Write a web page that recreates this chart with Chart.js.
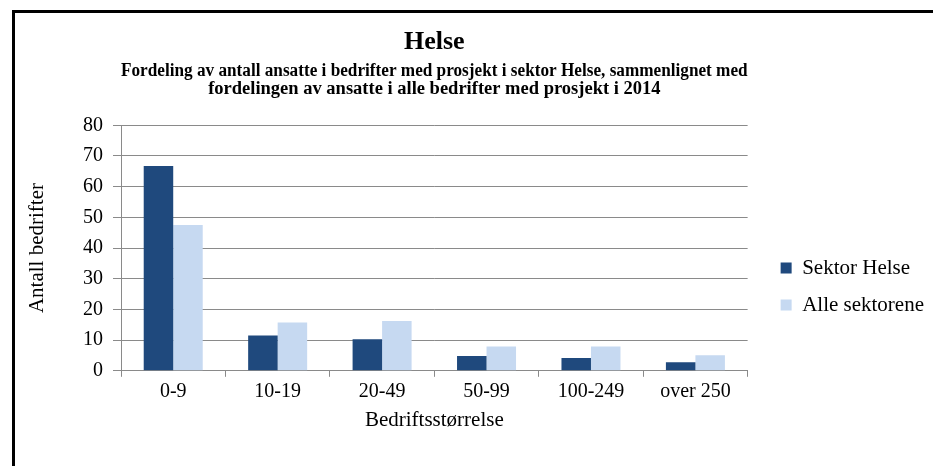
<!DOCTYPE html>
<html>
<head>
<meta charset="utf-8">
<script src="https://cdn.jsdelivr.net/npm/chart.js@4"></script>
<style>
  html, body { margin: 0; padding: 0; background: #fff; overflow: hidden; }
  #frame {
    position: absolute;
    left: 12px;
    top: 10px;
    border: 3px solid #000;
    width: 960px;
    height: 547px;
  }
  canvas { display: block; }
</style>
</head>
<body>
<div id="frame">
  <canvas id="chart" width="919" height="547"></canvas>
</div>
<script>
const categories = ["0-9", "10-19", "20-49", "50-99", "100-249", "over 250"];
const sektorHelse = [66.7, 11.5, 10.3, 4.8, 4.2, 2.8];
const alleSektorene = [47.5, 15.7, 16.2, 7.9, 7.9, 5.1];
const seriesNames = ["Sektor Helse", "Alle sektorene"];

const gridColor = "#8a8a8a";
Chart.defaults.font.family = "'Liberation Serif', 'Times New Roman', serif";
Chart.defaults.color = "#000";

const ctx = document.getElementById("chart").getContext("2d");

new Chart(ctx, {
  type: "bar",
  data: {
    labels: categories,
    datasets: [
      {
        label: seriesNames[0],
        data: sektorHelse,
        backgroundColor: "#1f497d",
        borderWidth: 0,
        barPercentage: 1,
        categoryPercentage: 0.565,
      },
      {
        label: seriesNames[1],
        data: alleSektorene,
        backgroundColor: "#c6d9f1",
        borderWidth: 0,
        barPercentage: 1,
        categoryPercentage: 0.565,
      },
    ],
  },
  options: {
    responsive: false,
    animation: false,
    layout: { padding: 0 },
    plugins: {
      title: {
        display: true,
        text: "Helse",
        fullSize: false,
        font: { size: 26, weight: "bold", lineHeight: 1.2 },
        padding: { top: 14, bottom: 0 },
        color: "#000",
      },
      subtitle: {
        display: true,
        text: [
          "Fordeling av antall ansatte i bedrifter med prosjekt i sektor Helse, sammenlignet med",
          "fordelingen av ansatte i alle bedrifter med prosjekt i 2014",
        ],
        fullSize: false,
        font: { size: 18.5, weight: "bold", lineHeight: 0.98 },
        padding: { top: 3.8, bottom: 27 },
        color: "#000",
      },
      legend: {
        position: "right",
        maxWidth: 240,
        labels: {
          boxWidth: 11,
          boxHeight: 11,
          padding: 16,
          font: { size: 21 },
          color: "#000",
        },
      },
      tooltip: { enabled: false },
    },
    scales: {
      x: {
        grid: {
          display: true,
          drawOnChartArea: false,
          drawTicks: true,
          tickLength: 6,
          color: gridColor,
          offset: true,
        },
        border: { display: true, color: gridColor },
        ticks: { font: { size: 20 }, padding: 3, maxRotation: 0 },
        title: {
          display: true,
          text: "Bedriftsstørrelse",
          font: { size: 21 },
          padding: { top: 1, bottom: 127 },
        },
      },
      y: {
        min: 0,
        max: 80,
        ticks: { stepSize: 10, font: { size: 20 }, padding: 10 },
        grid: {
          color: gridColor,
          drawTicks: true,
          tickLength: 8,
        },
        border: { display: true, color: gridColor },
        title: {
          display: true,
          text: "Antall bedrifter",
          font: { size: 21 },
          padding: { top: 9.5, bottom: 10 },
        },
        afterFit: (scale) => {
          scale.width = 106;
        },
      },
      // spacer between plot and legend
      spacer: {
        type: "linear",
        position: "right",
        display: true,
        grid: { display: false },
        border: { display: false },
        ticks: { display: false },
        afterFit: (scale) => {
          scale.width = 17;
        },
      },
    },
  },
});
</script>
</body>
</html>
